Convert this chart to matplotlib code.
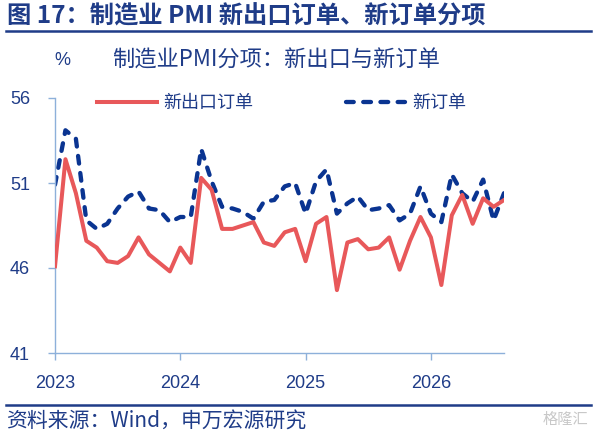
import matplotlib
matplotlib.use("Agg")
import matplotlib.pyplot as plt
from matplotlib.lines import Line2D
import pandas as pd

plt.rcParams['font.family'] = ['Noto Sans CJK SC', 'DejaVu Sans']

months = pd.date_range("2023-01", "2026-08", freq="MS")

new_export_orders = [
    46.1, 52.4, 50.4, 47.6, 47.2, 46.4, 46.3, 46.7, 47.8, 46.8, 46.3, 45.8,
    47.2, 46.3, 51.3, 50.6, 48.3, 48.3, 48.5, 48.7, 47.5, 47.3, 48.1, 48.3,
    46.4, 48.6, 49.0, 44.7, 47.5, 47.7, 47.1, 47.2, 47.8, 45.9, 47.6, 49.0,
    47.8, 45.0, 49.1, 50.3, 48.6, 50.1, 49.6, 50.0,
]
new_orders = [
    50.9, 54.1, 53.6, 48.8, 48.3, 48.6, 49.5, 50.2, 50.5, 49.5, 49.4, 48.7,
    49.0, 49.0, 53.0, 51.1, 49.6, 49.5, 49.3, 48.9, 49.9, 50.0, 50.8, 51.0,
    49.2, 51.1, 51.8, 49.2, 49.8, 50.2, 49.4, 49.5, 49.7, 48.8, 49.2, 50.8,
    49.2, 48.7, 51.5, 50.4, 49.9, 51.2, 48.8, 50.4,
]
series_names = ["新出口订单", "新订单"]
y_ticks = [41, 46, 51, 56]
year_labels = ["2023", "2024", "2025", "2026"]

title = "图 17：制造业 PMI 新出口订单、新订单分项"
subtitle = "制造业PMI分项：新出口与新订单"
source = "资料来源：Wind，申万宏源研究"

TEXT = "#1F3C88"
RED = "#E8585A"
BLUE = "#0A3491"
AXIS = "#8DB0DA"

W, H = 595, 434
fig = plt.figure(figsize=(W / 100, H / 100), dpi=100)
ax = fig.add_axes([55 / W, 1 - 353 / H, (504 - 55) / W, (353 - 98) / H])

x = list(range(len(months)))
ax.plot(x, new_export_orders, color=RED, lw=2.9, solid_joinstyle='round',
        label=series_names[0], zorder=3)
ax.plot(x, new_orders, color=BLUE, lw=3.1, dashes=(1.8, 2.2),
        dash_capstyle='round', label=series_names[1], zorder=2)

ax.set_xlim(0, len(months) - 1)
ax.set_ylim(41, 56)
ax.set_yticks(y_ticks)
ax.set_yticklabels([str(v) for v in y_ticks])
year_pos = [i for i, m in enumerate(months) if m.month == 1]
ax.set_xticks(year_pos)
ax.set_xticklabels(year_labels)

for s in ["top", "right"]:
    ax.spines[s].set_visible(False)
for s in ["left", "bottom"]:
    ax.spines[s].set_color(AXIS)
    ax.spines[s].set_linewidth(1.0)
ax.tick_params(axis='both', colors=AXIS, labelcolor=TEXT, length=5,
               width=1.0, labelsize=13)
ax.tick_params(axis='y', pad=13)
ax.tick_params(axis='x', pad=11)
for lab in ax.get_xticklabels() + ax.get_yticklabels():
    lab.set_family(['Liberation Sans', 'DejaVu Sans'])

leg = ax.legend(loc='center left', bbox_to_anchor=(97 / W, 1 - 103 / H),
                bbox_transform=fig.transFigure, ncol=2, frameon=False,
                borderpad=0, borderaxespad=0, handlelength=3.3,
                handletextpad=0.35, columnspacing=5.15, fontsize=13)
for t in leg.get_texts():
    t.set_color(TEXT)

fig.text(7 / W, 1 - 16 / H, title, fontsize=17.5, fontweight='bold',
         color=TEXT, va='center', ha='left')
fig.add_artist(Line2D([6 / W, 591 / W], [1 - 31 / H, 1 - 31 / H],
                      color=TEXT, lw=1.8, transform=fig.transFigure))
fig.text(62 / W, 1 - 60 / H, "%", fontsize=13, color=TEXT,
         va='center', ha='center', family=['Liberation Sans', 'DejaVu Sans'])
fig.text(112 / W, 1 - 60 / H, subtitle, fontsize=16, color=TEXT,
         va='center', ha='left')

fig.add_artist(Line2D([6 / W, 591 / W], [1 - 405 / H, 1 - 405 / H],
                      color=TEXT, lw=1.8, transform=fig.transFigure))
fig.text(6 / W, 1 - 421 / H, source, fontsize=15, color=TEXT,
         va='center', ha='left')
fig.text(588 / W, 1 - 419 / H, "格隆汇", fontsize=11, color="#C8C8C8",
         va='center', ha='right')

fig.savefig("out.png", dpi=100)
